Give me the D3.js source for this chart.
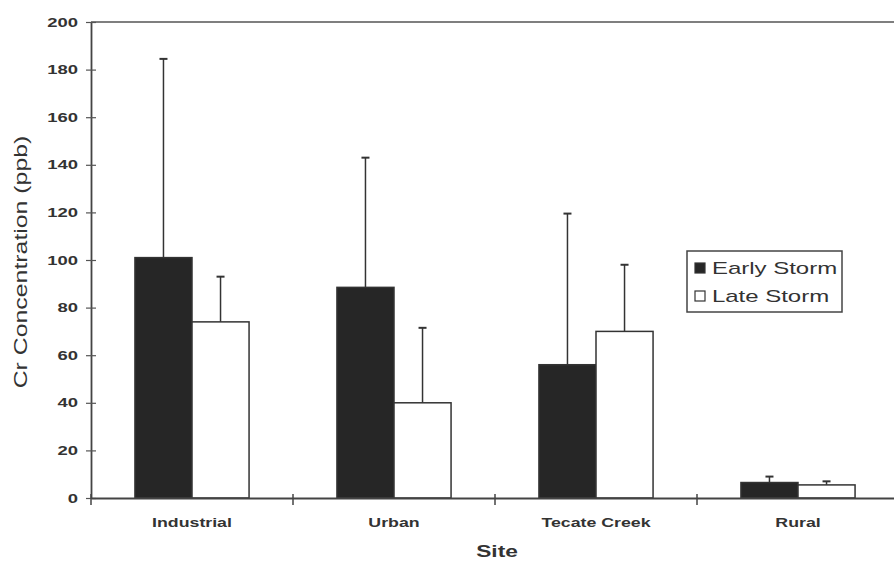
<!DOCTYPE html>
<html>
<head>
<meta charset="utf-8">
<script src="https://cdn.jsdelivr.net/npm/d3@7"></script>
<style>
  body { margin: 0; background: #fff; }
  text { font-family: Arial, "Liberation Sans", sans-serif; fill: #333; }
</style>
</head>
<body>
<svg width="894" height="563"></svg>
<script>
'use strict';

const sites = ["Industrial", "Urban", "Tecate Creek", "Rural"];
const seriesNames = ["Early Storm", "Late Storm"];
const earlyValues = [101, 88.5, 56, 6.5];
const lateValues = [74, 40, 70, 5.5];
const earlyErrTop = [184.5, 143, 119.5, 9];
const lateErrTop = [93, 71.5, 98, 7];
const yTicks = [0, 20, 40, 60, 80, 100, 120, 140, 160, 180, 200];

const width = 894, height = 563;
const margin = {top: 22, right: -5, bottom: 65, left: 91};
// the scanned lettering is stretched along the text direction
const stretch = 1.42;

let svg = d3.select("svg");

let x = d3.scaleBand()
  .domain(sites)
  .range([margin.left, width - margin.right]);

let xInner = d3.scaleBand()
  .domain(seriesNames)
  .range([0, x.bandwidth()])
  .paddingInner(0)
  .paddingOuter(0.77);

let y = d3.scaleLinear()
  .domain([0, 200])
  .range([height - margin.bottom, margin.top]);

const colors = {"Early Storm": "#262626", "Late Storm": "#fff"};

let rows = sites.map((s, i) => ({
  site: s,
  bars: [
    {series: "Early Storm", value: earlyValues[i], err: earlyErrTop[i]},
    {series: "Late Storm", value: lateValues[i], err: lateErrTop[i]}
  ]
}));

// plot frame top line
svg.append("line")
  .attr("x1", margin.left).attr("x2", width)
  .attr("y1", y(200)).attr("y2", y(200))
  .attr("stroke", "#555").attr("stroke-width", 1.5);

let groups = svg.append("g")
  .selectAll("g")
  .data(rows)
  .join("g")
    .attr("transform", d => `translate(${x(d.site)},0)`);

// error bars (upper only)
groups.selectAll("line.err")
  .data(d => d.bars)
  .join("line")
    .attr("class", "err")
    .attr("x1", d => xInner(d.series) + xInner.bandwidth() / 2)
    .attr("x2", d => xInner(d.series) + xInner.bandwidth() / 2)
    .attr("y1", d => y(d.value))
    .attr("y2", d => y(d.err))
    .attr("stroke", "#333")
    .attr("stroke-width", 1.5);

groups.selectAll("line.cap")
  .data(d => d.bars)
  .join("line")
    .attr("class", "cap")
    .attr("x1", d => xInner(d.series) + xInner.bandwidth() / 2 - 4)
    .attr("x2", d => xInner(d.series) + xInner.bandwidth() / 2 + 4)
    .attr("y1", d => y(d.err))
    .attr("y2", d => y(d.err))
    .attr("stroke", "#333")
    .attr("stroke-width", 2);

groups.selectAll("rect")
  .data(d => d.bars)
  .join("rect")
    .attr("x", d => xInner(d.series))
    .attr("width", xInner.bandwidth())
    .attr("y", d => y(d.value))
    .attr("height", d => y(0) - y(d.value))
    .attr("fill", d => colors[d.series])
    .attr("stroke", "#333")
    .attr("stroke-width", 1.5);

// y axis
let yAxis = svg.append("g")
  .attr("transform", `translate(${margin.left},0)`)
  .call(d3.axisLeft(y).tickValues(yTicks).tickSize(0));
yAxis.select(".domain").attr("stroke", "#444").attr("stroke-width", 1.8);
yAxis.selectAll(".tick line").attr("x1", -5).attr("x2", 5).attr("stroke", "#555").attr("stroke-width", 1.2);
yAxis.selectAll(".tick text")
  .attr("x", -13 / stretch)
  .attr("transform", `scale(${stretch},1)`)
  .style("font-family", "Arial, 'Liberation Sans', sans-serif")
  .style("font-size", "13px").style("font-weight", "bold").attr("fill", "#333");

// x axis
let xAxis = svg.append("g")
  .attr("transform", `translate(0,${y(0)})`)
  .call(d3.axisBottom(x).tickSize(0).tickPadding(20));
xAxis.select(".domain").attr("stroke", "#444").attr("stroke-width", 1.8);
xAxis.selectAll(".tick text")
  .attr("transform", `scale(${stretch},1)`)
  .style("font-family", "Arial, 'Liberation Sans', sans-serif")
  .style("font-size", "12.5px").style("font-weight", "bold").attr("fill", "#333");

// category boundary ticks
svg.append("g")
  .selectAll("line")
  .data(sites)
  .join("line")
    .attr("x1", d => x(d)).attr("x2", d => x(d))
    .attr("y1", y(0) - 4).attr("y2", y(0) + 7)
    .attr("stroke", "#444").attr("stroke-width", 1.5);

// axis titles
svg.append("text")
  .attr("transform", `translate(27,${(y(0) + y(200)) / 2 + 2}) rotate(-90) scale(${stretch},1)`)
  .attr("text-anchor", "middle")
  .style("font-size", "17.5px")
  .text("Cr Concentration (ppb)");

svg.append("text")
  .attr("transform", `translate(497,557) scale(${stretch},1)`)
  .attr("text-anchor", "middle")
  .style("font-size", "16px").style("font-weight", "bold")
  .text("Site");

// legend
let legend = svg.append("g").attr("transform", "translate(687,251)");
legend.append("rect")
  .attr("width", 155).attr("height", 61)
  .attr("fill", "#fff").attr("stroke", "#444").attr("stroke-width", 1.5);
let items = legend.selectAll("g")
  .data(seriesNames)
  .join("g")
    .attr("transform", (d, i) => `translate(8,${17 + i * 28})`);
items.append("rect")
  .attr("y", -5).attr("width", 10).attr("height", 10)
  .attr("fill", d => colors[d]).attr("stroke", "#333").attr("stroke-width", 1.2);
items.append("text")
  .attr("x", 16 / stretch).attr("dy", "0.36em")
  .attr("transform", `scale(${stretch + 0.08},1)`)
  .style("font-size", "16px")
  .text(d => d);
</script>
</body>
</html>
